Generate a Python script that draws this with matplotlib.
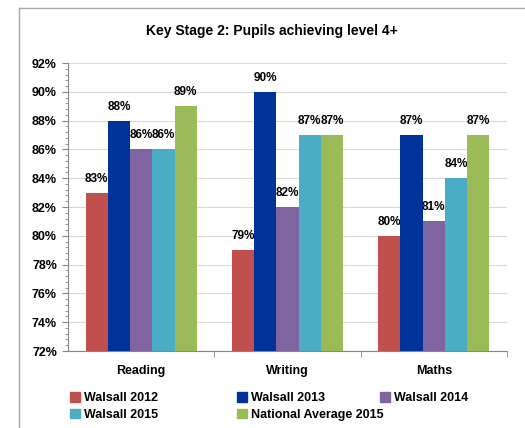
import numpy as np
import matplotlib
matplotlib.use('Agg')
import matplotlib.pyplot as plt
from matplotlib.lines import Line2D
from matplotlib.ticker import MultipleLocator, PercentFormatter

categories = ['Reading', 'Writing', 'Maths']
series_names = ['Walsall 2012', 'Walsall 2013', 'Walsall 2014',
                'Walsall 2015', 'National Average 2015']
values = {
    'Walsall 2012': [83, 79, 80],
    'Walsall 2013': [88, 90, 87],
    'Walsall 2014': [86, 82, 81],
    'Walsall 2015': [86, 87, 84],
    'National Average 2015': [89, 87, 87],
}
colors = ['#C0504D', '#003399', '#8064A2', '#4BACC6', '#9BBB59']

plt.rcParams['font.family'] = ['Liberation Sans', 'DejaVu Sans']
plt.rcParams['font.weight'] = 'bold'

fig = plt.figure(figsize=(5.25, 4.28), dpi=100)
ax = fig.add_axes([68 / 525, 1 - 351 / 428, (507 - 68) / 525, (351 - 63) / 428])

# outer chart frame (left and top edges visible)
fig.add_artist(Line2D([19 / 525, 19 / 525], [0, 1 - 8 / 428], color='#A6A6A6', lw=1.0))
fig.add_artist(Line2D([19 / 525, 1], [1 - 8 / 428, 1 - 8 / 428], color='#A6A6A6', lw=1.0))

x = np.arange(len(categories))
width = 0.152
for i, name in enumerate(series_names):
    offs = (i - 2) * width
    bars = ax.bar(x + offs, values[name], width, bottom=0, color=colors[i],
                  label=name, zorder=3)
    for b, v in zip(bars, values[name]):
        ax.text(b.get_x() + b.get_width() / 2, v + 0.55, f'{v}%',
                ha='center', va='bottom', fontsize=8.5, fontweight='bold')

ax.set_ylim(72, 92)
ax.set_xlim(-0.5, 2.5)
ax.yaxis.set_major_locator(MultipleLocator(2))
ax.yaxis.set_minor_locator(MultipleLocator(0.4))
ax.yaxis.set_major_formatter(PercentFormatter(decimals=0))
ax.grid(axis='y', color='#D9D9D9', lw=0.8, zorder=0)

ax.set_xticks(x)
ax.set_xticklabels(categories, fontsize=9, fontweight='bold')
ax.set_xticks([0.5, 1.5, 2.5], minor=True)
ax.tick_params(axis='x', which='major', length=0, pad=10)
ax.tick_params(axis='x', which='minor', length=4, color='#868686')
ax.tick_params(axis='y', which='major', length=4, color='#868686', labelsize=9, pad=4)
ax.tick_params(axis='y', which='minor', length=2, color='#868686')
for lbl in ax.get_yticklabels():
    lbl.set_fontweight('bold')

for s in ['top', 'right']:
    ax.spines[s].set_visible(False)
for s in ['left', 'bottom']:
    ax.spines[s].set_color('#868686')

fig.text(272 / 525, 1 - 31 / 428, 'Key Stage 2: Pupils achieving level 4+',
         ha='center', va='center', fontsize=10, fontweight='bold')

# legend, three columns placed like the original
handles = [plt.Rectangle((0, 0), 1, 1, color=c) for c in colors]
cols = [([0, 3], 70), ([1, 4], 237), ([2], 380)]
for idx, xpos in cols:
    leg = fig.legend([handles[k] for k in idx], [series_names[k] for k in idx],
                     loc='upper left', bbox_to_anchor=(xpos / 525, 1 - 392 / 428),
                     frameon=False, fontsize=9, handlelength=0.8, handleheight=0.8,
                     handletextpad=0.3, labelspacing=0.35, borderaxespad=0,
                     borderpad=0)
    for t in leg.get_texts():
        t.set_fontweight('bold')

fig.savefig('out.png', dpi=100)
